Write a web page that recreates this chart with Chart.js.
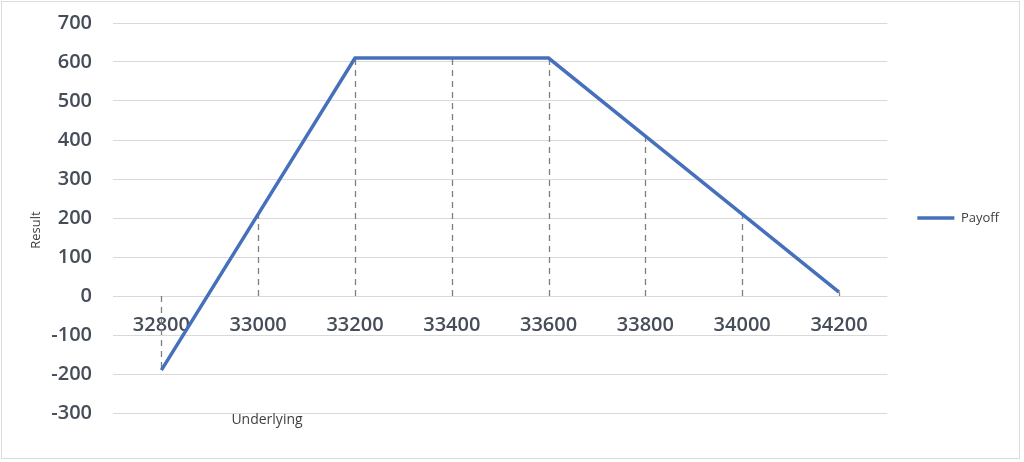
<!DOCTYPE html>
<html lang="en-US">
<head>
  <meta charset="utf-8">
  <title>Payoff chart</title>
  <script src="https://cdn.jsdelivr.net/npm/chart.js@4"></script>
  <style>
    html, body { margin: 0; padding: 0; background: #fff; }
    .wrapper { width: 1024px; height: 462px; }
  </style>
</head>
<body>
  <div class="wrapper">
    <canvas id="chart-0"></canvas>
  </div>

  <script>
    let underlying = ['32800', '33000', '33200', '33400', '33600', '33800', '34000', '34200'];
    let payoff = [-190, 210, 610, 610, 610, 410, 210, 10];
    let yTicks = [-300, -200, -100, 0, 100, 200, 300, 400, 500, 600, 700];

    let textColor = '#454d58';
    let gridColor = '#d9d9d9';
    let lineColor = '#4670bb';

    // frame, dashed drop lines and the two axis captions
    let decorations = {
      id: 'decorations',
      beforeDraw: function(chart) {
        let ctx = chart.ctx;
        ctx.save();
        ctx.fillStyle = '#fff';
        ctx.fillRect(0, 0, chart.width, chart.height);
        ctx.strokeStyle = '#dcdcdc';
        ctx.lineWidth = 1;
        ctx.strokeRect(1.5, 1.5, 1018, 457);
        ctx.restore();
      },
      beforeDatasetsDraw: function(chart) {
        let ctx = chart.ctx;
        let x = chart.scales.x;
        let y = chart.scales.y;
        let zero = y.getPixelForValue(0);
        ctx.save();
        ctx.strokeStyle = '#7f7f7f';
        ctx.lineWidth = 1.3;
        ctx.setLineDash([6, 5]);
        payoff.forEach(function(v, i) {
          let px = Math.round(x.getPixelForValue(i)) + 0.5;
          ctx.beginPath();
          ctx.moveTo(px, zero);
          ctx.lineTo(px, y.getPixelForValue(v));
          ctx.stroke();
        });
        ctx.restore();
      },
      afterDraw: function(chart) {
        let ctx = chart.ctx;
        ctx.save();
        ctx.fillStyle = '#404040';
        ctx.font = '14px "Open Sans"';
        ctx.textAlign = 'center';
        ctx.textBaseline = 'middle';
        ctx.fillText('Underlying', 267, 420);
        ctx.font = '13px "Open Sans"';
        ctx.translate(36, 230);
        ctx.rotate(-Math.PI / 2);
        ctx.fillText('Result', 0, 0);
        ctx.restore();
      }
    };

    let chart = new Chart('chart-0', {
      type: 'line',
      data: {
        labels: underlying,
        datasets: [{
          label: 'Payoff',
          data: payoff,
          borderColor: lineColor,
          backgroundColor: lineColor,
          borderWidth: 3.5,
          pointRadius: 0,
          pointStyle: 'line',
          tension: 0
        }]
      },
      options: {
        responsive: true,
        maintainAspectRatio: false,
        animation: false,
        layout: {
          padding: { top: 23, bottom: 49, left: 0, right: 15 }
        },
        plugins: {
          legend: {
            position: 'right',
            labels: {
              usePointStyle: true,
              pointStyleWidth: 37,
              padding: 30,
              color: '#404040',
              font: { family: 'Open Sans', size: 13 }
            }
          },
          tooltip: { enabled: false }
        },
        scales: {
          x: {
            position: { y: 0 },
            offset: true,
            afterFit: function(scale) {
              scale.height = 0;
              scale.paddingTop = 0;
              scale.paddingBottom = 0;
            },
            grid: { display: false, drawTicks: false },
            border: { display: false },
            ticks: {
              padding: 17,
              maxRotation: 0,
              color: textColor,
              font: { family: 'Open Sans', size: 20, weight: '600' }
            }
          },
          y: {
            min: -300,
            max: 700,
            afterFit: function(scale) {
              scale.width = 113;
              scale.paddingTop = 0;
              scale.paddingBottom = 0;
            },
            afterBuildTicks: function(scale) {
              scale.ticks = yTicks.map(function(v) { return { value: v }; });
            },
            grid: { color: gridColor, lineWidth: 1, drawTicks: false },
            border: { display: false },
            ticks: {
              padding: 21,
              color: textColor,
              font: { family: 'Open Sans', size: 20, weight: '600' }
            }
          }
        }
      },
      plugins: [decorations]
    });
  </script>
</body>
</html>
